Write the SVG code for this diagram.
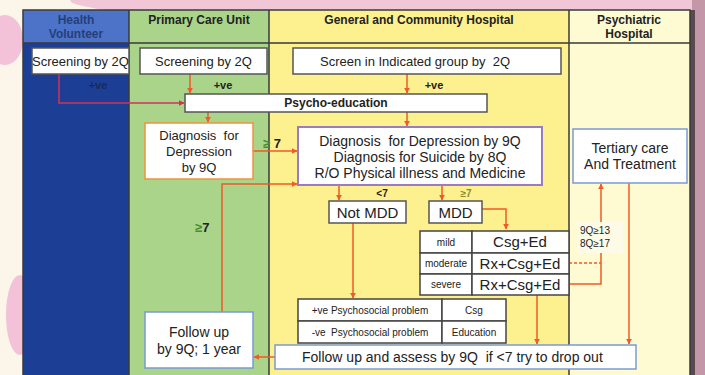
<svg xmlns="http://www.w3.org/2000/svg" width="705" height="375" viewBox="0 0 705 375">
<defs>
<marker id="ah" viewBox="0 0 10 10" refX="9" refY="5" markerWidth="6" markerHeight="6" orient="auto" markerUnits="userSpaceOnUse"><path d="M0,0 L10,5 L0,10 z" fill="#f05a28"/></marker>
<marker id="ahm" viewBox="0 0 10 10" refX="9" refY="5" markerWidth="6" markerHeight="6" orient="auto" markerUnits="userSpaceOnUse"><path d="M0,0 L10,5 L0,10 z" fill="#d2325e"/></marker>
<style>
text{font-family:"Liberation Sans",Arial,sans-serif;fill:#222;white-space:pre;}
.hd{font-weight:bold;font-size:12px;text-anchor:middle;}
.box{fill:#fff;stroke:#555;stroke-width:1.5;}
.cell{fill:#fff;stroke:#444;stroke-width:1.5;}
.t13{font-size:13px;text-anchor:middle;}
.t14{font-size:14px;text-anchor:middle;}
.t15{font-size:15px;text-anchor:middle;}
.sm{font-size:10px;text-anchor:middle;}
.ln{fill:none;stroke:#f05a28;stroke-width:1.5;}
.lbl{font-size:11px;font-weight:bold;text-anchor:middle;}
</style>
</defs>
<rect x="0" y="0" width="705" height="375" fill="#fbf5ea"/>
<ellipse cx="400" cy="0" rx="330" ry="22" fill="#f1c6d6"/>
<ellipse cx="5" cy="40" rx="18" ry="25" fill="#f3c2d8"/>
<ellipse cx="20" cy="315" rx="14" ry="40" fill="#f3c2d8"/>
<rect x="692" y="0" width="13" height="375" fill="#c497a8"/>
<rect x="689" y="10" width="6" height="365" fill="#5a4a50"/>
<g id="col-hv">
<rect x="23" y="10" width="106" height="365" fill="#1c3f95"/>
<rect x="23" y="10" width="106" height="33" fill="#4c73c8"/>
<text class="hd" x="76" y="24" style="fill:#243f7a">Health</text>
<text class="hd" x="76" y="38" style="fill:#243f7a">Volunteer</text>
</g>
<g id="col-pcu">
<rect x="129" y="10" width="140" height="365" fill="#a9d48a"/>
<text class="hd" x="199" y="24">Primary Care Unit</text>
</g>
<g id="col-gch">
<rect x="269" y="10" width="300" height="365" fill="#fdf08e"/>
<text class="hd" x="419" y="24">General and Community Hospital</text>
</g>
<g id="col-ph">
<rect x="569" y="10" width="121" height="365" fill="#fefbd2"/>
<text class="hd" x="629" y="24">Psychiatric</text>
<text class="hd" x="629" y="38">Hospital</text>
</g>
<g id="frame" fill="none" stroke="#3a3a3a" stroke-width="1.5">
<rect x="23" y="10" width="667" height="370"/>
<line x1="23" y1="43" x2="690" y2="43"/>
<line x1="129" y1="10" x2="129" y2="375"/>
<line x1="269" y1="10" x2="269" y2="375"/>
<line x1="569" y1="10" x2="569" y2="375"/>
</g>
<g id="connectors">
<path d="M59,74 V103 H184" fill="none" stroke="#d2325e" stroke-width="1.5" marker-end="url(#ahm)"/>
<path class="ln" d="M190,74 V93" marker-end="url(#ah)"/>
<path class="ln" d="M407,74 V93" marker-end="url(#ah)"/>
<path class="ln" d="M208,112 V122" marker-end="url(#ah)"/>
<path class="ln" d="M407,112 V126" marker-end="url(#ah)"/>
<path class="ln" d="M253,151 H297" marker-end="url(#ah)"/>
<path class="ln" d="M222,312 V184 H297" marker-end="url(#ah)"/>
<path class="ln" d="M339,185 V200" marker-end="url(#ah)"/>
<path class="ln" d="M442,185 V200" marker-end="url(#ah)"/>
<path class="ln" d="M482,209 H506 V229" marker-end="url(#ah)"/>
<path class="ln" d="M353,223 V298" marker-end="url(#ah)"/>
<path class="ln" d="M537,295 V344" marker-end="url(#ah)"/>
<path class="ln" d="M275,357 H254" marker-end="url(#ah)"/>
<path class="ln" d="M569,263 H601" stroke-dasharray="3,2"/>
<path class="ln" d="M569,284 H601 V184" marker-end="url(#ah)"/>
<path class="ln" d="M629,183 V344" marker-end="url(#ah)"/>
<text class="lbl" x="98" y="89" style="fill:#1a2a55">+ve</text>
<text class="lbl" x="223" y="89">+ve</text>
<text class="lbl" x="434" y="89">+ve</text>
<text x="263" y="148" style="font-size:13px;font-weight:bold"><tspan style="fill:#4a8a30">≥</tspan> 7</text>
<text x="195" y="232" style="font-size:13px;font-weight:bold"><tspan style="fill:#4a8a30">≥</tspan>7</text>
<text x="382" y="197" style="font-size:10px;font-weight:bold;text-anchor:middle">&lt;7</text>
<text x="466" y="197" style="font-size:10px;font-weight:bold;text-anchor:middle;fill:#8a8a30">≥7</text>
</g>
<g id="hv-screen"><rect class="box" x="32" y="48" width="97" height="26"/><text class="t13" x="80.5" y="66">Screening by 2Q</text></g>
<g id="pcu-screen"><rect class="box" x="140" y="48" width="127" height="26"/><text class="t13" x="203.5" y="66">Screening by 2Q</text></g>
<g id="gch-screen"><rect class="box" x="293" y="48" width="268" height="26"/><text class="t13" x="415" y="66">Screen in Indicated group by  2Q</text></g>
<g id="psycho-ed"><rect class="box" x="185" y="94" width="302" height="18"/><text x="336" y="107" style="font-size:12px;font-weight:bold;text-anchor:middle">Psycho-education</text></g>
<g id="pcu-diag"><rect x="145" y="123" width="108" height="56" fill="#fff" stroke="#f0923a" stroke-width="1.5"/>
<text class="t13" x="199" y="140">Diagnosis  for</text><text class="t13" x="199" y="156">Depression</text><text class="t13" x="199" y="172">by 9Q</text></g>
<g id="gch-diag"><rect x="298" y="127" width="244" height="58" fill="#fff" stroke="#9a7cc4" stroke-width="2"/>
<text class="t14" x="420" y="146">Diagnosis  for Depression by 9Q</text><text class="t14" x="420" y="162">Diagnosis for Suicide by 8Q</text><text class="t14" x="420" y="178">R/O Physical illness and Medicine</text></g>
<g id="not-mdd"><rect class="box" x="329" y="201" width="77" height="22"/><text class="t15" x="367.5" y="218">Not MDD</text></g>
<g id="mdd"><rect class="box" x="429" y="201" width="53" height="22"/><text class="t15" x="455.5" y="218">MDD</text></g>
<g id="severity">
<rect class="cell" x="420" y="231" width="52" height="22"/><rect class="cell" x="472" y="231" width="97" height="22"/>
<rect class="cell" x="420" y="253" width="52" height="21"/><rect class="cell" x="472" y="253" width="97" height="21"/>
<rect class="cell" x="420" y="274" width="52" height="21"/><rect class="cell" x="472" y="274" width="97" height="21"/>
<text class="sm" x="446" y="246">mild</text><text class="t15" x="520" y="247">Csg+Ed</text>
<text class="sm" x="446" y="267">moderate</text><text class="t15" x="520" y="269">Rx+Csg+Ed</text>
<text class="sm" x="446" y="288">severe</text><text class="t15" x="520" y="290">Rx+Csg+Ed</text>
</g>
<g id="thresholds"><rect x="577" y="222" width="46" height="31" fill="#fdfbe8"/>
<text x="580" y="234" style="font-size:10px">9Q≥13</text><text x="580" y="247" style="font-size:10px">8Q≥17</text></g>
<g id="tertiary"><rect x="573" y="129" width="114" height="54" fill="#fff" stroke="#7a9ad4" stroke-width="1.5"/>
<text class="t14" x="630" y="153">Tertiary care</text><text class="t14" x="630" y="169">And Treatment</text></g>
<g id="psychosocial">
<rect class="cell" x="298" y="299" width="144" height="22"/><rect class="cell" x="442" y="299" width="64" height="22"/>
<rect class="cell" x="298" y="321" width="144" height="22"/><rect class="cell" x="442" y="321" width="64" height="22"/>
<text class="sm" x="370" y="314">+ve Psychosocial problem</text><text class="sm" x="474" y="314">Csg</text>
<text class="sm" x="370" y="336">-ve  Psychosocial problem</text><text class="sm" x="474" y="336">Education</text>
</g>
<g id="follow-assess"><rect x="275" y="345" width="361" height="24" fill="#fff" stroke="#7a9ad4" stroke-width="1.5"/>
<text x="302" y="362" style="font-size:14px">Follow up and assess by 9Q  if &lt;7 try to drop out</text></g>
<g id="follow-year"><rect x="145" y="312" width="108" height="56" fill="#fff" stroke="#7a9ad4" stroke-width="1.5"/>
<text class="t14" x="199" y="337">Follow up</text><text class="t14" x="199" y="354">by 9Q; 1 year</text></g>
</svg>
